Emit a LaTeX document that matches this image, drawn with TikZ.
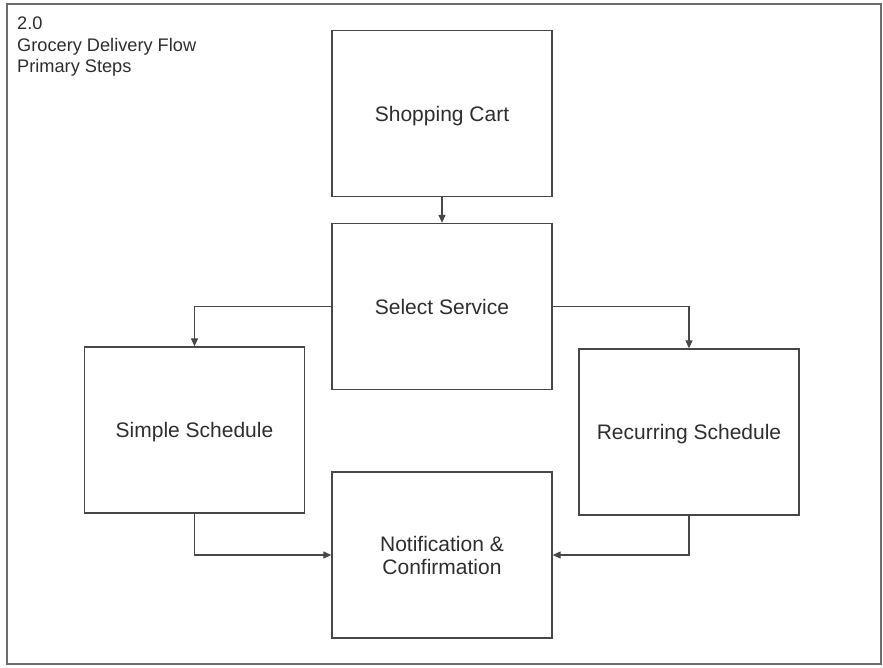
\documentclass[tikz,border=0pt]{standalone}
\usepackage{fontspec}
\setmainfont{Liberation Sans}
\usetikzlibrary{arrows.meta}
\definecolor{ink}{HTML}{474747}
\definecolor{txt}{HTML}{2E2E2E}
\begin{document}
\begin{tikzpicture}[x=1pt,y=-1pt,
  stepbox/.style={draw=ink,line width=1.3pt,minimum width=220pt,minimum height=166pt,
    inner sep=0pt,align=center,text=txt,text depth=0pt,font=\fontsize{21}{23}\selectfont},
  flow/.style={draw=ink,line width=1.2pt,-{Triangle[length=8pt,width=7pt]}}]
\useasboundingbox (0,0) rectangle (883,667);
% outer frame
\draw[ink!80,line width=1.4pt] (7,4) rectangle (881,664);
% heading
\node[anchor=north west,align=left,text=txt,inner sep=0pt,
  font=\fontsize{18.2}{21.5}\selectfont] (head) at (17,17)
  {2.0\\Grocery Delivery Flow\\Primary Steps};
% steps
\node[stepbox] (cart) at (442,113.5) {Shopping Cart};
\node[stepbox] (select) at (442,306.5) {Select Service};
\node[stepbox] (simple) at (194.5,430) {Simple Schedule};
\node[stepbox] (recur) at (689,432) {Recurring Schedule};
\node[stepbox] (notify) at (442,555) {Notification \&\\Confirmation};
% connectors
\draw[flow] (cart.south) -- (select.north);
\draw[flow] (select.west) -| (simple.north);
\draw[flow] (select.east) -| (recur.north);
\draw[flow] (simple.south) |- (notify.west);
\draw[flow] (recur.south) |- (notify.east);
\end{tikzpicture}
\end{document}
